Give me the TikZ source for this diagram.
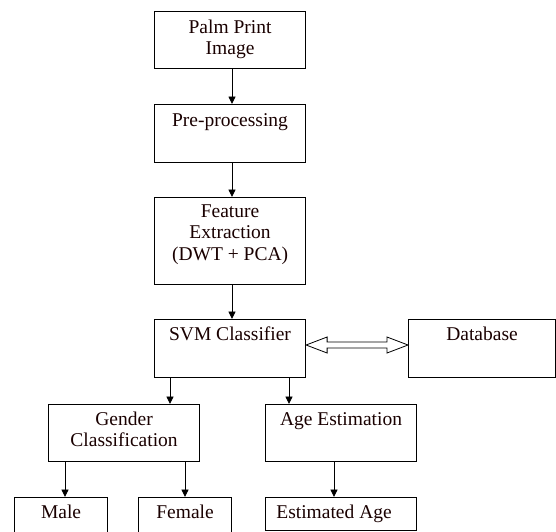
\documentclass[tikz,border=0pt]{standalone}
\usepackage{fontspec}
\setmainfont{Liberation Serif}
\usetikzlibrary{arrows.meta,calc}
\begin{document}
\begin{tikzpicture}[x=1pt,y=-1pt,
  box/.style={draw=black, line width=1.1pt, inner sep=0pt, anchor=north west},
  txt/.style={anchor=north, inner sep=0pt, align=center, text=black!90!red,
    font=\fontsize{19.5}{21.5}\selectfont, execute at begin node={\rule{0pt}{15pt}}},
  arr/.style={draw=black, line width=0.9pt, -{Triangle[width=7pt,length=7.5pt]}},
  dblarr/.style={draw=black, line width=0.8pt, fill=white}]
\useasboundingbox (0,0) rectangle (556,531);
\begin{scope}
\clip (0,0) rectangle (556,531);
% boxes
\node[box, minimum width=151pt, minimum height=57pt] (pal) at (154,11) {};
\node[box, minimum width=151pt, minimum height=58pt] (pre) at (154,104) {};
\node[box, minimum width=151pt, minimum height=87pt] (fea) at (154,197) {};
\node[box, minimum width=151pt, minimum height=58pt] (svm) at (154,319) {};
\node[box, minimum width=147pt, minimum height=58pt] (dbs) at (408,319) {};
\node[box, minimum width=151pt, minimum height=57pt] (gen) at (48,404) {};
\node[box, minimum width=151pt, minimum height=57pt] (age) at (265,404) {};
\node[box, minimum width=93pt, minimum height=50pt] (male) at (14,497) {};
\node[box, minimum width=93pt, minimum height=50pt] (fem) at (138,497) {};
\node[box, minimum width=151pt, minimum height=33pt] (est) at (265,497) {};
\end{scope}
% texts
\node[txt] (pal-t) at ([yshift=-8.5pt]pal.north) {Palm Print\\Image};
\node[txt] (pre-t) at ([yshift=-7pt]pre.north) {Pre-processing};
\node[txt] (fea-t) at ([yshift=-7.5pt]fea.north) {Feature\\Extraction\\(DWT + PCA)};
\node[txt] (svm-t) at ([yshift=-6pt]svm.north) {SVM Classifier};
\node[txt] (dbs-t) at ([yshift=-6pt]dbs.north) {Database};
\node[txt] (gen-t) at ([yshift=-7.5pt]gen.north) {Gender\\Classification};
\node[txt] (age-t) at ([yshift=-6pt]age.north) {Age Estimation};
\node[txt] (male-t) at ([yshift=-6pt]male.north) {Male};
\node[txt] (fem-t) at ([yshift=-6pt]fem.north) {Female};
\node[txt] (est-t) at ([xshift=-7pt,yshift=-6pt]est.north) {Estimated Age};
% column coordinates
\coordinate (cmain) at (232,0);
\coordinate (cg) at (170,0);
\coordinate (ca) at (289,0);
\coordinate (cm) at (65,0);
\coordinate (cf) at (185,0);
\coordinate (ce) at (334,0);
% connectors
\draw[arr] (pal.south -| cmain) -- (pre.north -| cmain);
\draw[arr] (pre.south -| cmain) -- (fea.north -| cmain);
\draw[arr] (fea.south -| cmain) -- (svm.north -| cmain);
\draw[arr] (svm.south -| cg) -- (gen.north -| cg);
\draw[arr] (svm.south -| ca) -- (age.north -| ca);
\draw[arr] (gen.south -| cm) -- (male.north -| cm);
\draw[arr] (gen.south -| cf) -- (fem.north -| cf);
\draw[arr] (age.south -| ce) -- (est.north -| ce);
% double hollow arrow
\coordinate (dl) at (svm.east |- 0,345);
\coordinate (dr) at (dbs.west |- 0,345);
\draw[dblarr] (dl) -- ($(dl)+(21,-8)$) -- ($(dl)+(21,-3)$) -- ($(dr)+(-21,-3)$)
  -- ($(dr)+(-21,-8)$) -- (dr) -- ($(dr)+(-21,8)$) -- ($(dr)+(-21,3)$)
  -- ($(dl)+(21,3)$) -- ($(dl)+(21,8)$) -- cycle;
\end{tikzpicture}
\end{document}
